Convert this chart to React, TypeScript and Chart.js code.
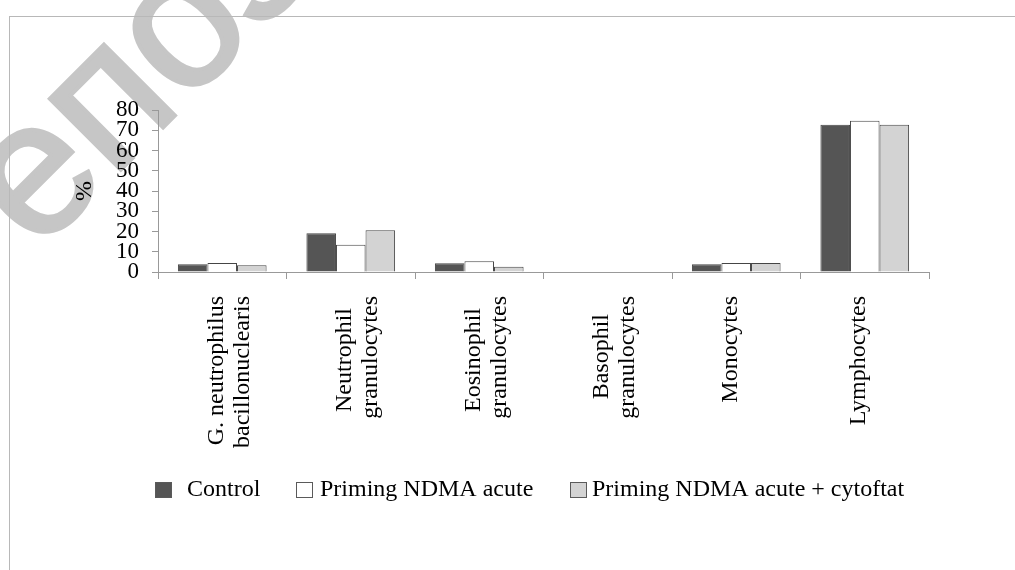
import React, { useEffect, useRef } from "react";
import { Chart, registerables } from "chart.js";

Chart.register(...registerables);

// ---- data ----
const categoryLabels: string[][] = [
  ["G. neutrophilus", "bacillonuclearis"],
  ["Neutrophil\u2002", "granulocytes"],
  ["Eosinophil\u2002", "granulocytes"],
  ["Basophil\u2002 ", "granulocytes"],
  ["Monocytes"],
  ["Lymphocytes"],
];
const seriesLabels = ["Control", "Priming NDMA acute", "Priming NDMA acute + cytoftat"];
const controlValues = [3.8, 19.1, 4.3, 0, 3.8, 72.7];
const primingValues = [4.5, 13.5, 5.3, 0, 4.5, 74.7];
const cytoftatValues = [3.3, 20.6, 2.6, 0, 4.5, 72.7];
const yTickValues = [0, 10, 20, 30, 40, 50, 60, 70, 80];
const yTitle = "%";
const watermarkText = "епозиторий";

// ---- styles ----
const seriesFill = ["#555555", "#ffffff", "#d3d3d3"];
const seriesBorder = "#454545";
const axisColor = "#999999";
const serif = "'Liberation Serif', 'Times New Roman', serif";

const legendLayout = {
  boxX: [155, 296, 570],
  textX: [187, 320, 592],
  boxY: 482,
  boxW: 17,
  boxH: 16,
  baseline: 496,
  font: "24px 'Liberation Serif'",
};

const customLegend = {
  id: "customLegend",
  afterDraw(chart: any) {
    const ctx = chart.ctx as CanvasRenderingContext2D;
    ctx.save();
    ctx.font = legendLayout.font;
    ctx.textBaseline = "alphabetic";
    ctx.textAlign = "left";
    chart.data.datasets.forEach((ds: any, i: number) => {
      const bx = legendLayout.boxX[i];
      ctx.fillStyle = ds.backgroundColor;
      ctx.fillRect(bx, legendLayout.boxY, legendLayout.boxW, legendLayout.boxH);
      ctx.strokeStyle = "#5a5a5a";
      ctx.lineWidth = 1;
      ctx.strokeRect(bx + 0.5, legendLayout.boxY + 0.5, legendLayout.boxW - 1, legendLayout.boxH - 1);
      ctx.fillStyle = "#000";
      ctx.fillText(ds.label, legendLayout.textX[i], legendLayout.baseline);
    });
    ctx.restore();
  },
};

export default function App() {
  const canvasRef = useRef<HTMLCanvasElement | null>(null);

  useEffect(() => {
    if (!canvasRef.current) return;
    const values = [controlValues, primingValues, cytoftatValues];
    const chart = new Chart(canvasRef.current, {
      type: "bar",
      data: {
        labels: categoryLabels,
        datasets: seriesLabels.map((label, i) => ({
          label,
          data: values[i],
          backgroundColor: seriesFill[i],
          borderColor: seriesBorder,
          borderWidth: 1,
          categoryPercentage: 0.69,
          barPercentage: 1,
        })),
      },
      options: {
        responsive: false,
        animation: false,
        devicePixelRatio: 1,
        layout: { padding: { left: 60, right: 86, top: 110, bottom: 0 } },
        plugins: {
          legend: { display: false },
          tooltip: { enabled: false },
        },
        scales: {
          x: {
            grid: {
              display: true,
              drawOnChartArea: false,
              drawTicks: true,
              tickLength: 7,
              color: axisColor,
              offset: true,
            },
            border: { display: true, color: axisColor },
            ticks: {
              autoSkip: false,
              minRotation: 90,
              maxRotation: 90,
              padding: 17,
              labelOffset: -6,
              color: "#000",
              font: { family: serif, size: 24, lineHeight: 1.1 },
            },
            afterFit: (s: any) => {
              s.height = 298;
            },
          },
          y: {
            min: yTickValues[0],
            max: yTickValues[yTickValues.length - 1],
            afterBuildTicks: (s: any) => {
              s.ticks = yTickValues.map((v) => ({ value: v }));
            },
            grid: {
              display: true,
              drawOnChartArea: false,
              drawTicks: true,
              tickLength: 6,
              color: axisColor,
            },
            border: { display: true, color: axisColor },
            ticks: {
              autoSkip: false,
              padding: 13,
              color: "#000",
              font: { family: serif, size: 23, lineHeight: 0.85 },
            },
            title: {
              display: true,
              text: yTitle,
              color: "#000",
              font: { family: serif, size: 24 },
              padding: { top: 10.6, bottom: 0 },
            },
            afterFit: (s: any) => {
              s.width = 98;
            },
          },
        },
      },
      plugins: [customLegend],
    } as any);
    return () => chart.destroy();
  }, []);

  return (
    <div
      style={{
        position: "fixed",
        left: 0,
        top: 0,
        width: 1015,
        height: 570,
        overflow: "hidden",
        background: "#ffffff",
      }}
    >
      <div
        style={{
          position: "absolute",
          left: -76.7,
          top: 140.3,
          transform: "rotate(-45deg)",
          transformOrigin: "0 0",
          fontFamily: "'Liberation Sans', sans-serif",
          fontSize: 190,
          lineHeight: "190px",
          color: "#c6c6c6",
          WebkitTextStroke: "4px #c6c6c6",
          whiteSpace: "nowrap",
        }}
      >
        {watermarkText}
      </div>
      <div
        style={{
          position: "absolute",
          left: 9,
          top: 16,
          width: 1100,
          height: 700,
          border: "1px solid #b8b8b8",
        }}
      />
      <canvas
        ref={canvasRef}
        width={1015}
        height={570}
        style={{ position: "absolute", left: 0, top: 0 }}
      />
    </div>
  );
}
